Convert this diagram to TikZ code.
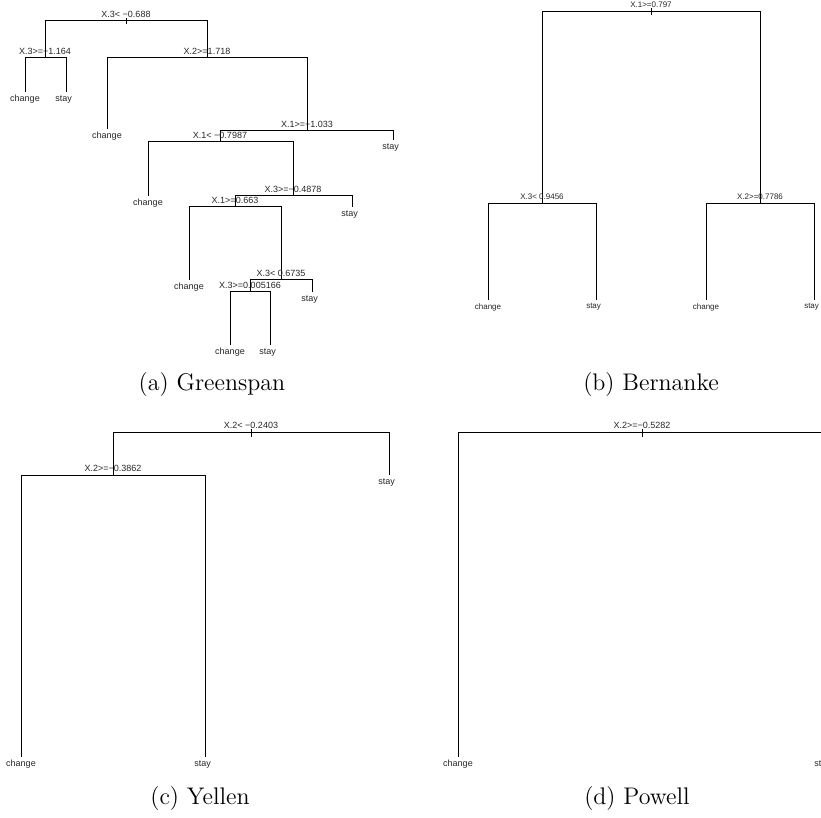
\documentclass[tikz,border=0pt]{standalone}
\usepackage{fontspec}
\newfontfamily\rfont{Liberation Sans}
\begin{document}
\begin{tikzpicture}[x=0.5pt,y=-0.5pt,
  tree/.style={line width=0.5pt, black},
  splitA/.style={font=\rfont\fontsize{4.5}{5}\selectfont, anchor=base, inner sep=0pt, text=black!85},
  splitB/.style={font=\rfont\fontsize{4}{4.5}\selectfont, anchor=base, inner sep=0pt, text=black!85},
  leafA/.style={font=\rfont\fontsize{4.5}{5}\selectfont, below=1.5pt, inner sep=0pt, text=black!85},
  leafB/.style={font=\rfont\fontsize{4}{4.5}\selectfont, below=1.5pt, inner sep=0pt, text=black!85},
  stayshift/.style={xshift=-1.2pt},
  subcap/.style={font=\fontsize{12}{14}\selectfont, inner sep=0pt}]
\useasboundingbox (0,0) rectangle (821,818);
\clip (0,0) rectangle (821,818);

% ---------------- (a) Greenspan ----------------
\coordinate (g0) at (126,21);
\coordinate (g1) at (45,58);
\coordinate (g1a) at (25,92);
\coordinate (g1b) at (66,92);
\coordinate (g2) at (207,58);
\coordinate (g2a) at (107,129);
\coordinate (g3) at (307,131);
\coordinate (g3b) at (393,140);
\coordinate (g4) at (220,142);
\coordinate (g4a) at (148,196);
\coordinate (g5) at (293,196);
\coordinate (g5b) at (352,207);
\coordinate (g6) at (235,207);
\coordinate (g6a) at (189,280);
\coordinate (g7) at (281,280);
\coordinate (g7b) at (312,292);
\coordinate (g8) at (250,292);
\coordinate (g8a) at (230,345);
\coordinate (g8b) at (270,345);

\draw[tree] ([yshift=1.5pt]g0) -- ([yshift=-1.5pt]g0);
\draw[tree] (g0) -| (g1);
\draw[tree] (g0) -| (g2);
\draw[tree] (g1) -| (g1a);
\draw[tree] (g1) -| (g1b);
\draw[tree] (g2) -| (g2a);
\draw[tree] (g2) -| (g3);
\draw[tree] (g3) -| (g4);
\draw[tree] (g3) -| (g3b);
\draw[tree] (g4) -| (g4a);
\draw[tree] (g4) -| (g5);
\draw[tree] (g5) -| (g6);
\draw[tree] (g5) -| (g5b);
\draw[tree] (g6) -| (g6a);
\draw[tree] (g6) -| (g7);
\draw[tree] (g7) -| (g8);
\draw[tree] (g7) -| (g7b);
\draw[tree] (g8) -| (g8a);
\draw[tree] (g8) -| (g8b);

\node[splitA] (g0t) at (126,18) {X.3< −0.688};
\node[splitA] (g1t) at (45,55) {X.3>=−1.164};
\node[splitA] (g2t) at (207,55) {X.2>=1.718};
\node[splitA] (g3t) at (307,128) {X.1>=−1.033};
\node[splitA] (g4t) at (220,139) {X.1< −0.7987};
\node[splitA] (g5t) at (293,193) {X.3>=−0.4878};
\node[splitA] (g6t) at (235,204) {X.1>=0.663};
\node[splitA] (g7t) at (281,277) {X.3< 0.6735};
\node[splitA] (g8t) at (250,289) {X.3>=0.005166};

\node[leafA] (g1al) at (g1a) {change};
\node[leafA, stayshift] (g1bl) at (g1b) {stay};
\node[leafA] (g2al) at (g2a) {change};
\node[leafA, stayshift] (g3bl) at (g3b) {stay};
\node[leafA] (g4al) at (g4a) {change};
\node[leafA, stayshift] (g5bl) at (g5b) {stay};
\node[leafA] (g6al) at (g6a) {change};
\node[leafA, stayshift] (g7bl) at (g7b) {stay};
\node[leafA] (g8al) at (g8a) {change};
\node[leafA, stayshift] (g8bl) at (g8b) {stay};

\node[subcap] (capa) at (212,385) {(a)\ Greenspan};

% ---------------- (b) Bernanke ----------------
\coordinate (b0) at (651,12);
\coordinate (b1) at (542,204);
\coordinate (b1a) at (488,300);
\coordinate (b1b) at (596,300);
\coordinate (b2) at (760,204);
\coordinate (b2a) at (706,300);
\coordinate (b2b) at (814,300);

\draw[tree] ([yshift=1.75pt]b0) -- ([yshift=-1.75pt]b0);
\draw[tree] (b0) -| (b1);
\draw[tree] (b0) -| (b2);
\draw[tree] (b1) -| (b1a);
\draw[tree] (b1) -| (b1b);
\draw[tree] (b2) -| (b2a);
\draw[tree] (b2) -| (b2b);

\node[splitB] (b0t) at (651,8) {X.1>=0.797};
\node[splitB] (b1t) at (542,200) {X.3< 0.9456};
\node[splitB] (b2t) at (760,200) {X.2>=0.7786};

\node[leafB] (b1al) at (b1a) {change};
\node[leafB, stayshift] (b1bl) at (b1b) {stay};
\node[leafB] (b2al) at (b2a) {change};
\node[leafB, stayshift] (b2bl) at (b2b) {stay};

\node[subcap] (capb) at (651,385) {(b)\ Bernanke};

% ---------------- (c) Yellen ----------------
\coordinate (y0) at (251,433);
\coordinate (y0b) at (389,475);
\coordinate (y1) at (113,476);
\coordinate (y1a) at (21,757);
\coordinate (y1b) at (205,757);

\draw[tree] ([yshift=2pt]y0) -- ([yshift=-2pt]y0);
\draw[tree] (y0) -| (y1);
\draw[tree] (y0) -| (y0b);
\draw[tree] (y1) -| (y1a);
\draw[tree] (y1) -| (y1b);

\node[splitA] (y0t) at (251,428.5) {X.2< −0.2403};
\node[splitA] (y1t) at (113,472) {X.2>=−0.3862};

\node[leafA, stayshift] (y0bl) at (y0b) {stay};
\node[leafA] (y1al) at (y1a) {change};
\node[leafA, stayshift] (y1bl) at (y1b) {stay};

\node[subcap] (capc) at (200,799) {(c)\ Yellen};

% ---------------- (d) Powell ----------------
\coordinate (p0) at (642,433);
\coordinate (p0a) at (458,757);
\coordinate (p0b) at (825,757);

\draw[tree] ([yshift=2pt]p0) -- ([yshift=-2pt]p0);
\draw[tree] (p0) -| (p0a);
\draw[tree] (p0) -| (p0b);

\node[splitA] (p0t) at (642,428.5) {X.2>=−0.5282};

\node[leafA] (p0al) at (p0a) {change};
\node[leafA, stayshift] (p0bl) at (p0b) {stay};

\node[subcap] (capd) at (637,799) {(d)\ Powell};
\end{tikzpicture}
\end{document}
